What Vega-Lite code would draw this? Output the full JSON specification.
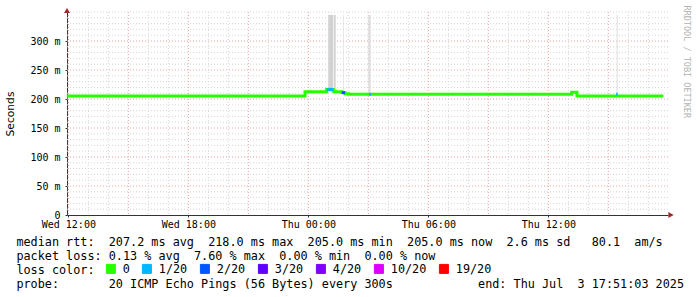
{
  "$schema": "https://vega.github.io/schema/vega-lite/v6.json",
  "width": 601,
  "height": 203,
  "autosize": {"type": "none"},
  "padding": {"left": 67, "top": 12, "right": 29, "bottom": 82},
  "background": "white",
  "config": {"view": {"stroke": null}},
  "datasets": {
    "hminor": [{"v":0.01},{"v":0.02},{"v":0.03},{"v":0.04},{"v":0.06},{"v":0.07},{"v":0.08},{"v":0.09},{"v":0.11},{"v":0.12},{"v":0.13},{"v":0.14},{"v":0.16},{"v":0.17},{"v":0.18},{"v":0.19},{"v":0.21},{"v":0.22},{"v":0.23},{"v":0.24},{"v":0.26},{"v":0.27},{"v":0.28},{"v":0.29},{"v":0.31},{"v":0.32},{"v":0.33},{"v":0.34},{"v":0.35}],
    "hmajor": [{"v":0.05},{"v":0.1},{"v":0.15},{"v":0.2},{"v":0.25},{"v":0.3}],
    "vminor": [{"t":"2025-07-02T13:00:00Z"},{"t":"2025-07-02T14:00:00Z"},{"t":"2025-07-02T16:00:00Z"},{"t":"2025-07-02T17:00:00Z"},{"t":"2025-07-02T19:00:00Z"},{"t":"2025-07-02T20:00:00Z"},{"t":"2025-07-02T22:00:00Z"},{"t":"2025-07-02T23:00:00Z"},{"t":"2025-07-03T01:00:00Z"},{"t":"2025-07-03T02:00:00Z"},{"t":"2025-07-03T04:00:00Z"},{"t":"2025-07-03T05:00:00Z"},{"t":"2025-07-03T07:00:00Z"},{"t":"2025-07-03T08:00:00Z"},{"t":"2025-07-03T10:00:00Z"},{"t":"2025-07-03T11:00:00Z"},{"t":"2025-07-03T13:00:00Z"},{"t":"2025-07-03T14:00:00Z"},{"t":"2025-07-03T16:00:00Z"},{"t":"2025-07-03T17:00:00Z"}],
    "vmajor": [{"t":"2025-07-02T12:00:00Z"},{"t":"2025-07-02T15:00:00Z"},{"t":"2025-07-02T18:00:00Z"},{"t":"2025-07-02T21:00:00Z"},{"t":"2025-07-03T00:00:00Z"},{"t":"2025-07-03T03:00:00Z"},{"t":"2025-07-03T06:00:00Z"},{"t":"2025-07-03T09:00:00Z"},{"t":"2025-07-03T12:00:00Z"},{"t":"2025-07-03T15:00:00Z"}],
    "smoke": [
      {"t0":"2025-07-03T01:00:00Z","t1":"2025-07-03T01:15:00Z","lo":0.213,"hi":0.345},
      {"t0":"2025-07-03T01:17:00Z","t1":"2025-07-03T01:22:00Z","lo":0.212,"hi":0.345}
    ],
    "smokelight": [
      {"t0":"2025-07-03T01:44:00Z","t1":"2025-07-03T01:46:00Z","lo":0.21,"hi":0.345},
      {"t0":"2025-07-03T03:00:00Z","t1":"2025-07-03T03:07:00Z","lo":0.208,"hi":0.345},
      {"t0":"2025-07-03T15:25:00Z","t1":"2025-07-03T15:28:00Z","lo":0.208,"hi":0.345}
    ],
    "median": [
      {"t":"2025-07-02T11:56:00Z","v":0.205,"loss":"0"},
      {"t":"2025-07-02T23:50:00Z","v":0.2125,"loss":"0"},
      {"t":"2025-07-03T00:55:00Z","v":0.2165,"loss":"0"},
      {"t":"2025-07-03T01:15:00Z","v":0.2135,"loss":"0"},
      {"t":"2025-07-03T01:20:00Z","v":0.2125,"loss":"0"},
      {"t":"2025-07-03T01:40:00Z","v":0.211,"loss":"0"},
      {"t":"2025-07-03T01:50:00Z","v":0.209,"loss":"0"},
      {"t":"2025-07-03T02:00:00Z","v":0.208,"loss":"0"},
      {"t":"2025-07-03T13:10:00Z","v":0.2115,"loss":"0"},
      {"t":"2025-07-03T13:26:00Z","v":0.205,"loss":"0"},
      {"t":"2025-07-03T17:45:00Z","v":0.205,"loss":"0"}
    ],
    "lossy": [
      {"t0":"2025-07-03T00:55:00Z","t1":"2025-07-03T01:15:00Z","v":0.2165,"loss":"1/20"},
      {"t0":"2025-07-03T01:40:00Z","t1":"2025-07-03T01:50:00Z","v":0.211,"loss":"2/20"},
      {"t0":"2025-07-03T03:03:00Z","t1":"2025-07-03T03:08:00Z","v":0.208,"loss":"1/20"},
      {"t0":"2025-07-03T15:23:00Z","t1":"2025-07-03T15:28:00Z","v":0.208,"loss":"1/20"}
    ],
    "arrowy": [{"t":"2025-07-02T11:56:00Z","v":0.3526}],
    "arrowx": [{"t":"2025-07-03T18:08:00Z","v":0}]
  },
  "title": {
    "text": [
      "median\u00a0rtt:\u00a0\u00a0207.2\u00a0ms\u00a0avg\u00a0\u00a0218.0\u00a0ms\u00a0max\u00a0\u00a0205.0\u00a0ms\u00a0min\u00a0\u00a0205.0\u00a0ms\u00a0now\u00a0\u00a02.6\u00a0ms\u00a0sd\u00a0\u00a0\u00a080.1\u00a0\u00a0am/s",
      "packet\u00a0loss:\u00a00.13\u00a0%\u00a0avg\u00a0\u00a07.60\u00a0%\u00a0max\u00a0\u00a00.00\u00a0%\u00a0min\u00a0\u00a00.00\u00a0%\u00a0now",
      "loss\u00a0color:",
      "probe:\u00a0\u00a0\u00a0\u00a0\u00a0\u00a0\u00a020\u00a0ICMP\u00a0Echo\u00a0Pings\u00a0(56\u00a0Bytes)\u00a0every\u00a0300s\u00a0\u00a0\u00a0\u00a0\u00a0\u00a0\u00a0\u00a0\u00a0\u00a0\u00a0\u00a0end:\u00a0Thu\u00a0Jul\u00a0\u00a03\u00a017:51:03\u00a02025"
    ],
    "orient": "bottom",
    "anchor": "start",
    "frame": "group",
    "dx": -50.6,
    "offset": -39.5,
    "font": "DejaVu Sans Mono",
    "fontSize": 11.8,
    "fontWeight": "normal",
    "color": "black",
    "lineHeight": 14,
    "baseline": "top"
  },
  "layer": [
    {
      "data": {"name": "hminor"},
      "mark": {"type": "rule", "color": "#d6d6d6", "strokeDash": [1, 2], "strokeWidth": 1},
      "encoding": {
        "y": {"field": "v", "type": "quantitative",
          "scale": {"domain": [0, 0.35], "nice": false, "zero": true},
          "axis": {"orient": "left", "values": [0, 0.05, 0.1, 0.15, 0.2, 0.25, 0.3],
            "labelExpr": "datum.value == 0 ? '0' : format(round(datum.value*1000),'d') + ' m'",
            "title": "Seconds", "titleFont": "DejaVu Sans", "titleFontSize": 10.7, "titleFontWeight": "normal", "titleColor": "black", "titlePadding": 14,
            "labelFont": "DejaVu Sans Mono", "labelFontSize": 10, "labelColor": "black", "labelPadding": 5,
            "tickSize": 2, "tickColor": "#333333", "domainColor": "#333333", "grid": false,
            "encode": {"labels": {"update": {"dy": {"signal": "datum.value == 0 ? -2 : 0"}}}}}}
      }
    },
    {
      "data": {"name": "hmajor"},
      "mark": {"type": "rule", "color": "#e9a3a3", "strokeDash": [1, 2], "strokeWidth": 1},
      "encoding": {
        "y": {"field": "v", "type": "quantitative",
          "axis": {"orient": "right", "title": "RRDTOOL / TOBI OETIKER", "labels": false, "ticks": false, "domain": false, "grid": false,
            "titleAngle": 90, "titleX": 18, "titleY": -7, "titleAlign": "left", "titleBaseline": "middle",
            "titleFont": "DejaVu Sans Mono", "titleFontSize": 8.5, "titleFontWeight": "normal", "titleColor": "#b3b3b3"}}
      }
    },
    {
      "data": {"name": "vminor"},
      "mark": {"type": "rule", "color": "#d6d6d6", "strokeDash": [1, 2], "strokeWidth": 1},
      "encoding": {
        "x": {"field": "t", "type": "temporal",
          "scale": {"type": "utc", "domain": ["2025-07-02T11:56:00Z", "2025-07-03T17:59:00Z"], "nice": false},
          "axis": {"orient": "bottom", "values": [
              {"year": 2025, "month": 7, "date": 2, "hours": 12, "utc": true},
              {"year": 2025, "month": 7, "date": 2, "hours": 18, "utc": true},
              {"year": 2025, "month": 7, "date": 3, "hours": 0, "utc": true},
              {"year": 2025, "month": 7, "date": 3, "hours": 6, "utc": true},
              {"year": 2025, "month": 7, "date": 3, "hours": 12, "utc": true}],
            "format": "%a %H:%M", "title": null, "labelFont": "DejaVu Sans Mono", "labelFontSize": 10, "labelColor": "black",
            "labelPadding": 2, "tickSize": 2, "tickColor": "#333333", "domainColor": "#333333", "grid": false, "labelFlush": false, "labelOverlap": false}}
      }
    },
    {
      "data": {"name": "vmajor"},
      "mark": {"type": "rule", "color": "#e9a3a3", "strokeDash": [1, 2], "strokeWidth": 1},
      "encoding": {"x": {"field": "t", "type": "temporal"}}
    },
    {
      "data": {"name": "smoke"},
      "mark": {"type": "rect", "color": "#d2d2d2", "clip": true},
      "encoding": {
        "x": {"field": "t0", "type": "temporal"}, "x2": {"field": "t1"},
        "y": {"field": "lo", "type": "quantitative", "axis": null}, "y2": {"field": "hi"}
      }
    },
    {
      "data": {"name": "smokelight"},
      "mark": {"type": "rect", "color": "#dedede", "clip": true},
      "encoding": {
        "x": {"field": "t0", "type": "temporal"}, "x2": {"field": "t1"},
        "y": {"field": "lo", "type": "quantitative", "axis": null}, "y2": {"field": "hi"}
      }
    },
    {
      "data": {"name": "median"},
      "mark": {"type": "line", "interpolate": "step-after", "strokeWidth": 3},
      "encoding": {
        "x": {"field": "t", "type": "temporal"},
        "y": {"field": "v", "type": "quantitative", "axis": null},
        "color": {"field": "loss", "type": "nominal",
          "scale": {"domain": ["0", "1/20", "2/20", "3/20", "4/20", "10/20", "19/20"],
                    "range": ["#26ff00", "#00b8ff", "#0059ff", "#5e00ff", "#7e00ff", "#dd00ff", "#ff0000"]},
          "legend": {"orient": "none", "legendX": 38, "legendY": 251, "direction": "horizontal", "title": null,
            "gridAlign": "none",
            "symbolType": "square", "symbolSize": 81, "symbolStrokeWidth": 1, "symbolStrokeColor": "black",
            "labelFont": "DejaVu Sans Mono", "labelFontSize": 11.8, "labelColor": "black", "labelOffset": 6,
            "columnPadding": 10, "padding": 0,
            "encode": {"symbols": {"update": {"fill": {"scale": "color", "field": "value"}, "stroke": {"value": "black"}, "strokeWidth": {"value": 1}, "opacity": {"value": 1}}}}}}
      }
    },
    {
      "data": {"name": "lossy"},
      "mark": {"type": "rule", "strokeWidth": 3},
      "encoding": {
        "x": {"field": "t0", "type": "temporal"}, "x2": {"field": "t1"},
        "y": {"field": "v", "type": "quantitative", "axis": null},
        "color": {"field": "loss", "type": "nominal", "legend": null}
      }
    },
    {
      "data": {"name": "arrowy"},
      "mark": {"type": "point", "shape": "triangle-up", "size": 36, "filled": true, "color": "#9e2a2a", "opacity": 1},
      "encoding": {
        "x": {"field": "t", "type": "temporal"},
        "y": {"field": "v", "type": "quantitative", "axis": null}
      }
    },
    {
      "data": {"name": "arrowx"},
      "mark": {"type": "point", "shape": "triangle-right", "size": 36, "filled": true, "color": "#9e2a2a", "opacity": 1},
      "encoding": {
        "x": {"field": "t", "type": "temporal"},
        "y": {"field": "v", "type": "quantitative", "axis": null}
      }
    }
  ],
  "resolve": {"axis": {"y": "independent"}}
}
